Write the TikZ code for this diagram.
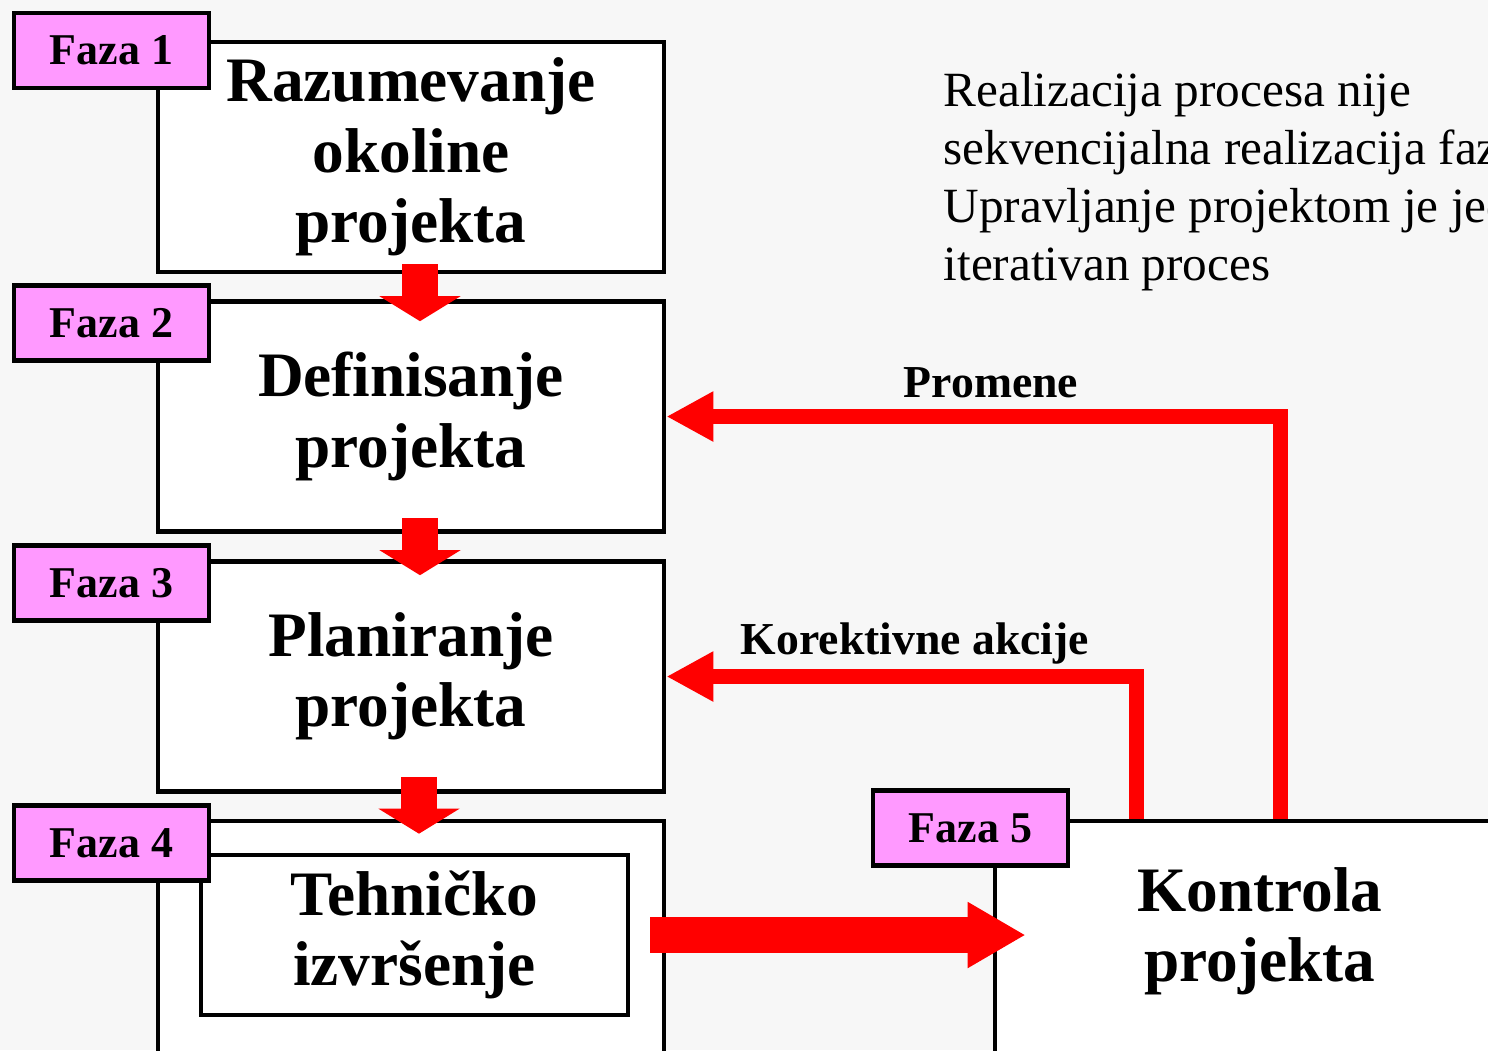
\documentclass[tikz,border=0pt]{standalone}
\usepackage{fontspec}
\setmainfont{Liberation Serif}
\usetikzlibrary{arrows.meta}
\definecolor{fazapink}{HTML}{FF99FF}
\definecolor{arrowred}{HTML}{FF0000}

\begin{document}
\begin{tikzpicture}[
    x=0.01cm, y=-0.01cm,
    phasebox/.style={rectangle, draw=black, fill=white, line width=0.045cm, inner sep=0pt, align=center, minimum width=5.06cm, minimum height=2.30cm, font=\fontsize{18}{20}\selectfont\bfseries},
    phasetext/.style={inner sep=0pt, align=center, font=\fontsize{18}{20}\selectfont\bfseries},
    fazatag/.style={rectangle, draw=black, fill=fazapink, line width=0.045cm, minimum width=1.95cm, minimum height=0.75cm, inner sep=0pt, font=\fontsize{12.5}{14}\selectfont\bfseries},
    downarrow/.style={draw=arrowred, line width=0.35cm, -{Triangle[width=0.8cm, length=0.25cm]}},
    bigarrow/.style={draw=arrowred, line width=0.36cm, -{Triangle[width=0.62cm, length=0.58cm]}},
    feedback/.style={draw=arrowred, line width=0.15cm, line join=miter, -{Triangle[width=0.47cm, length=0.47cm]}},
    loopname/.style={inner sep=0pt, font=\fontsize{13}{15}\selectfont\bfseries},
    note/.style={inner sep=0pt, align=left, font=\fontsize{14}{16.5}\selectfont}
]
\useasboundingbox (0,0) rectangle (1488,1050);
\clip (0,0) rectangle (1488,1050);
\fill[black!3] (0,0) rectangle (1488,1050);

% Phase boxes
\node[phasebox] (okolina) at (411,157) {Razumevanje\\okoline\\projekta};
\node[phasebox] (definisanje) at (411,416.5) {Definisanje\\projekta};
\node[phasebox] (planiranje) at (411,676.5) {Planiranje\\projekta};
\node[phasebox, minimum height=2.59cm] (izvrsenje) at (411,950.5) {};
\node[phasebox, minimum width=4.27cm, minimum height=1.60cm] (tehnicko) at (414.5,935) {Tehničko\\izvršenje};
\node[phasebox, minimum width=5.25cm, minimum height=2.59cm] (kontrola) at (1257.5,950.5) {};
\node[phasetext] (kontrolatxt) at (1260,931) {Kontrola\\projekta};

% Phase tags
\foreach \i/\y in {1/50.5, 2/323, 3/583, 4/843} {
    \node[fazatag] (faza\i) at (111.5,\y) {Faza \i};
}
\node[fazatag] (faza5) at (970.5,828) {Faza 5};

% Flow between phases
\draw[downarrow] ([shift={(9,-10)}]okolina.south) -- ([shift={(9,22)}]definisanje.north);
\draw[downarrow] ([shift={(9,-16)}]definisanje.south) -- ([shift={(9,16)}]planiranje.north);
\draw[downarrow] ([shift={(8,-17)}]planiranje.south) -- ([shift={(8,15)}]izvrsenje.north);
\draw[bigarrow] ([shift={(20,0)}]tehnicko.east) -- ([shift={(33,0)}]tehnicko.east -| kontrola.west);

% Feedback loops
\draw[feedback] ([shift={(288,0)}]kontrola.north west) |- (definisanje.east);
\draw[feedback] ([shift={(144,0)}]kontrola.north west) |- (planiranje.east);
\node[loopname] (promene) at (991,383) {Promene};
\node[loopname] (korekcije) at (915,643) {Korektivne akcije};

% Note
\node[note, anchor=north west] (napomena) at (943,72) {Realizacija procesa nije\\sekvencijalna realizacija faza.\\Upravljanje projektom je jedan\\iterativan proces};

\end{tikzpicture}
\end{document}
